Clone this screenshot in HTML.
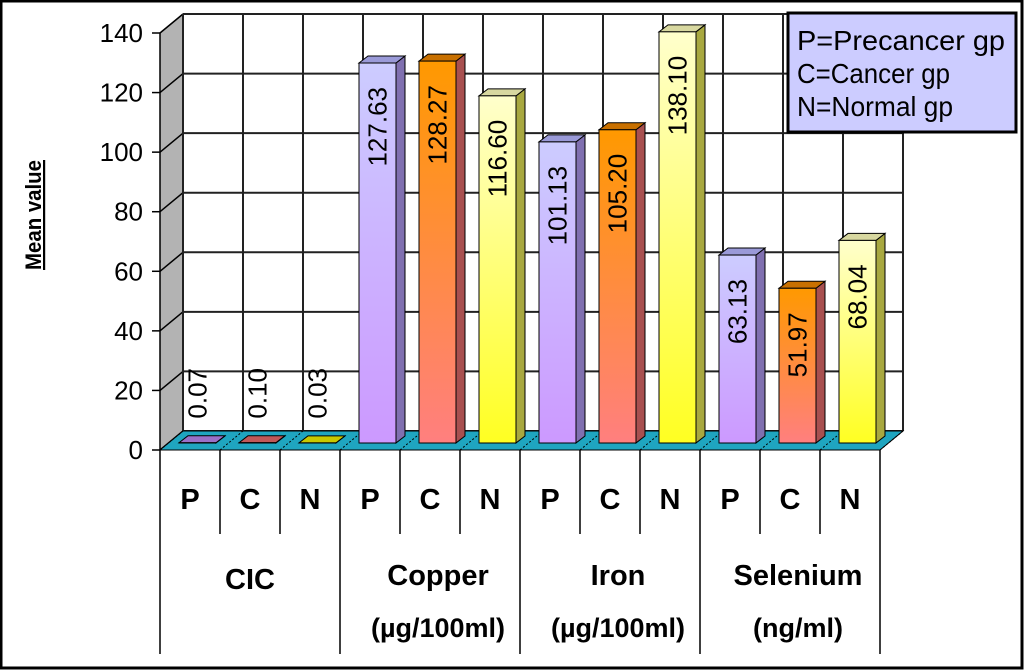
<!DOCTYPE html>
<html><head><meta charset="utf-8"><style>
html,body{margin:0;padding:0;background:#fff}
svg{display:block}
text{font-family:"Liberation Sans",Arial,sans-serif}
</style></head><body>
<svg id="chart" width="1024" height="670" viewBox="0 0 1024 670">
<defs>
<linearGradient id="gP" x1="0" y1="0" x2="0" y2="1"><stop offset="0" stop-color="#ccccff"/><stop offset="1" stop-color="#cc99ff"/></linearGradient>
<linearGradient id="gC" x1="0" y1="0" x2="0" y2="1"><stop offset="0" stop-color="#ff9900"/><stop offset="1" stop-color="#ff7f7f"/></linearGradient>
<linearGradient id="gN" x1="0" y1="0" x2="0" y2="1"><stop offset="0" stop-color="#ffffcc"/><stop offset="1" stop-color="#ffff22"/></linearGradient>
</defs>
<rect x="1" y="1" width="1021" height="667" fill="#fff" stroke="#000" stroke-width="3"/>
<g id="grid"></g>
<g id="bars"></g>
<g id="table"></g>
<text transform="translate(41,215) rotate(-90)" text-anchor="middle" font-size="22" font-weight="bold" text-decoration="underline" textLength="110" lengthAdjust="spacingAndGlyphs">Mean value</text>
<g>
<rect x="788" y="13" width="228" height="119" fill="#ccccff" stroke="#000" stroke-width="3"/>
<text x="797" y="50" font-size="28" textLength="208" lengthAdjust="spacingAndGlyphs" fill="#000">P=Precancer gp</text>
<text x="797" y="83" font-size="28" textLength="153" lengthAdjust="spacingAndGlyphs" fill="#000">C=Cancer gp</text>
<text x="797" y="116" font-size="28" textLength="156" lengthAdjust="spacingAndGlyphs" fill="#000">N=Normal gp</text>
</g>
</svg>
<script>
const groups = ["CIC", "Copper", "Iron", "Selenium"];
const groupLine1 = ["CIC", "Copper", "Iron", "Selenium"];
const groupLine2 = ["", "(µg/100ml)", "(µg/100ml)", "(ng/ml)"];
const series = ["P", "C", "N"];
const valuesP = [0.07, 127.63, 101.13, 63.13];
const valuesC = [0.10, 128.27, 105.20, 51.97];
const valuesN = [0.03, 116.60, 138.10, 68.04];
const labelsP = ["0.07", "127.63", "101.13", "63.13"];
const labelsC = ["0.10", "128.27", "105.20", "51.97"];
const labelsN = ["0.03", "116.60", "138.10", "68.04"];
const yTicks = [0, 20, 40, 60, 80, 100, 120, 140];

const NS = "http://www.w3.org/2000/svg";
const X0 = 160, COL = 60, Y0 = 450, PPU = 417/140, DX = 23, DY = -19;
const yFront = v => Y0 - v*PPU;
function mk(parent, tag, attrs){const e=document.createElementNS(NS,tag);for(const k in attrs)e.setAttribute(k,attrs[k]);parent.appendChild(e);return e;}
const grid = document.getElementById('grid'), barsG = document.getElementById('bars'), tbl = document.getElementById('table');
const nCols = groups.length*series.length;
const XR = X0 + nCols*COL;
const sw = mk(grid,'polygon',{points:`${X0},${Y0} ${X0},${yFront(140)} ${X0+DX},${yFront(140)+DY} ${X0+DX},${Y0+DY}`,fill:'#b3b3b3',stroke:'#000','stroke-width':1});


yTicks.forEach(t=>{
  const y=yFront(t);
  mk(grid,'line',{x1:X0,y1:y,x2:X0+DX,y2:y+DY,stroke:'#000','stroke-width':1.5});
  mk(grid,'line',{x1:X0+DX,y1:y+DY,x2:XR+DX,y2:y+DY,stroke:'#222','stroke-width':2});
  mk(grid,'line',{x1:X0-8,y1:y,x2:X0,y2:y,stroke:'#000','stroke-width':1.5});
  const tx=mk(grid,'text',{x:X0-17,y:y+9,'text-anchor':'end','font-size':26,fill:'#000'});
  tx.textContent=t;
  
  
});
for(let k=0;k<=nCols;k++){const x=X0+DX+k*COL;mk(grid,'line',{x1:x,y1:yFront(140)+DY,x2:x,y2:Y0+DY,stroke:'#222','stroke-width':2});}
mk(grid,'line',{x1:X0,y1:Y0,x2:X0,y2:yFront(140),stroke:'#000','stroke-width':1.5});
const fl = mk(grid,'polygon',{points:`${X0},${Y0} ${XR},${Y0} ${XR+DX},${Y0+DY} ${X0+DX},${Y0+DY}`,fill:'#1fa5c0',stroke:'#000','stroke-width':1});


for(let k=0;k<=nCols;k++){const x=X0+k*COL;mk(grid,'line',{x1:x,y1:Y0,x2:x+DX,y2:Y0+DY,stroke:'#000','stroke-width':1,'stroke-dasharray':'2,2'});}
const vals=[valuesP,valuesC,valuesN], labs=[labelsP,labelsC,labelsN], fills=['url(#gP)','url(#gC)','url(#gN)'];
const sides=['#8070b0','#a85050','#a8a840'], tops=['#9a9ad8','#c87000','#d8d8a0'], flatTops=['#9a70c8','#c05858','#c8c800'];
const bdx=9, bdy=-7, BASE=443, SC=380/127.63;
groups.forEach((g,gi)=>{series.forEach((s,si)=>{
  const v=vals[si][gi], col=gi*3+si;
  const x=X0+col*COL+19, w=37, yt=BASE-v*SC;
  const small = v<5;
  const grp=mk(barsG,'g',{});
  
  
  mk(grp,'polygon',{points:`${x+w},${BASE} ${x+w},${yt} ${x+w+bdx},${yt+bdy} ${x+w+bdx},${BASE+bdy}`,fill:sides[si],stroke:'#000','stroke-width':1});
  mk(grp,'polygon',{points:`${x},${yt} ${x+w},${yt} ${x+w+bdx},${yt+bdy} ${x+bdx},${yt+bdy}`,fill:small?flatTops[si]:tops[si],stroke:'#000','stroke-width':1});
  mk(grp,'rect',{x:x,y:yt,width:w,height:BASE-yt,fill:fills[si],stroke:'#000','stroke-width':1});
  const ty = small ? 368 : yt+24;
  const t=mk(barsG,'text',{transform:`translate(${x+w/2+9},${ty}) rotate(-90)`,'text-anchor':'end','font-size':26,fill:'#000'});
  t.textContent=labs[si][gi];
  
  
});});
for(let k=0;k<=nCols;k++){const x=X0+k*COL;const major=k%3===0;mk(tbl,'line',{x1:x,y1:Y0,x2:x,y2:major?654:534,stroke:'#000','stroke-width':1.5});}
groups.forEach((g,gi)=>{
  series.forEach((s,si)=>{
    const t=mk(tbl,'text',{x:X0+(gi*3+si)*COL+30,y:509,'text-anchor':'middle','font-size':29,'font-weight':'bold'});
    t.textContent=s;
    
    
  });
  const cx=X0+gi*3*COL+90+(gi===0?0:8);
  const a=mk(tbl,'text',{x:cx,y:groupLine2[gi]?585:589,'text-anchor':'middle','font-size':29,'font-weight':'bold'});
  a.textContent=groupLine1[gi];
  
  
  if(groupLine2[gi]){
    const b=mk(tbl,'text',{x:cx,y:637,'text-anchor':'middle','font-size':27,'font-weight':'bold'});
    b.textContent=groupLine2[gi];
    
    
  }
});
</script>
</body></html>
